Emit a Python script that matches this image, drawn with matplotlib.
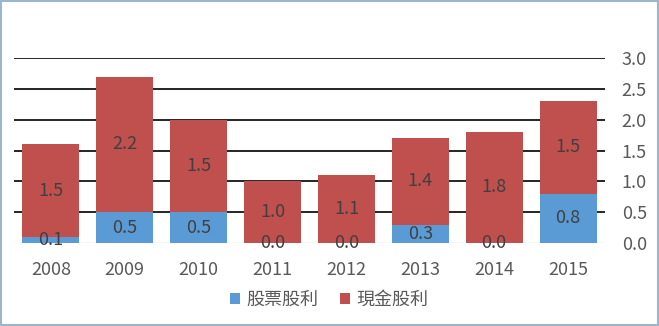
import matplotlib
matplotlib.use("Agg")
import numpy as np
from matplotlib import pyplot as plt
from matplotlib.patches import Rectangle

plt.rcParams['font.family'] = ['Noto Sans CJK TC', 'DejaVu Sans']

years = ["2008", "2009", "2010", "2011", "2012", "2013", "2014", "2015"]
stock_div = [0.1, 0.5, 0.5, 0.0, 0.0, 0.3, 0.0, 0.8]
cash_div = [1.5, 2.2, 1.5, 1.0, 1.1, 1.4, 1.8, 1.5]

blue = "#5B9BD5"
red = "#C0504D"
label_col = "#404040"
tick_col = "#595959"

fig = plt.figure(figsize=(6.59, 3.26), dpi=100)
ax = fig.add_axes([14 / 659, 1 - 243 / 326, (605 - 14) / 659, (243 - 58) / 326])

x = np.arange(len(years))
b1 = ax.bar(x, stock_div, width=0.77, color=blue, label="股票股利", zorder=3)
b2 = ax.bar(x, cash_div, width=0.77, bottom=stock_div, color=red, label="現金股利", zorder=3)

# value labels in the middle of each segment
for i in range(len(years)):
    ax.text(x[i], stock_div[i] / 2, f"{stock_div[i]:.1f}", ha="center", va="center",
            fontsize=13, color=label_col, zorder=4)
    ax.text(x[i], stock_div[i] + cash_div[i] / 2, f"{cash_div[i]:.1f}", ha="center",
            va="center", fontsize=13, color=label_col, zorder=4)

ax.set_xlim(-0.5, len(years) - 0.5)
ax.set_ylim(0, 3.0)
ax.set_yticks(np.arange(0, 3.01, 0.5))
ax.set_yticklabels([f"{v:.1f}" for v in np.arange(0, 3.01, 0.5)])
ax.yaxis.tick_right()
ax.set_xticks(x)
ax.set_xticklabels(years)
ax.tick_params(axis="y", length=0, pad=12, labelsize=13, labelcolor=tick_col)
ax.tick_params(axis="x", length=0, pad=13, labelsize=13, labelcolor=tick_col)

for v in np.arange(0.5, 3.01, 0.5):
    ax.axhline(v, color="black", linewidth=1.2, zorder=1)
ax.axhline(0, color="#D9D9D9", linewidth=1.0, zorder=2)

for s in ax.spines.values():
    s.set_visible(False)

leg = fig.legend(handles=[b1, b2], loc="center", bbox_to_anchor=(0.5, 1 - 300 / 326),
                 ncol=2, frameon=False, fontsize=13, handlelength=0.55, handleheight=0.55,
                 handletextpad=0.35, columnspacing=1.2)
for t in leg.get_texts():
    t.set_color(tick_col)

fig.patches.append(Rectangle((0.001, 0.002), 0.997, 0.995, transform=fig.transFigure,
                             fill=False, edgecolor="#9DB5CA", linewidth=1.5))

fig.savefig("out.png", dpi=100)
